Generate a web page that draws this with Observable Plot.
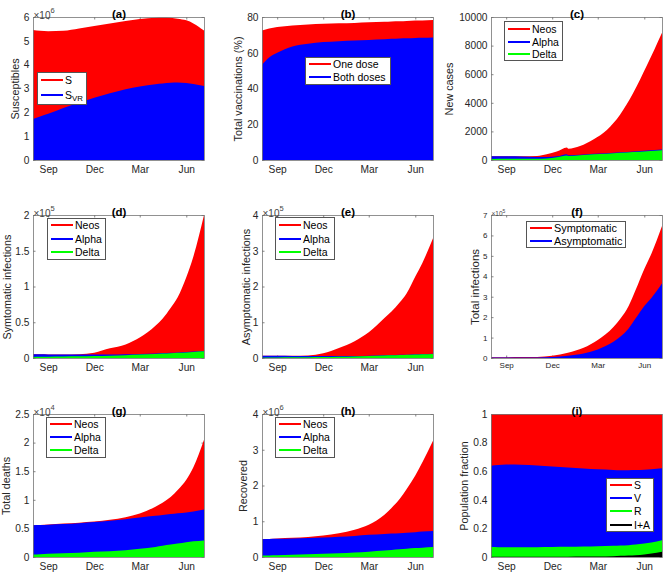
<!DOCTYPE html>
<html><head><meta charset="utf-8">
<script src="https://cdn.jsdelivr.net/npm/d3@7"></script>
<script src="https://cdn.jsdelivr.net/npm/@observablehq/plot@0.6"></script>
<style>
body{margin:0;background:#fff;}
#root{position:relative;width:669px;height:575px;background:#fff;font-family:"Liberation Sans",Arial,Helvetica,sans-serif;color:#000;overflow:hidden}
.cell{position:absolute}
.legend{position:absolute;background:#fff;border:1px solid #555;box-sizing:border-box}
.legend .ln{position:absolute;height:2px;margin-top:-1px}
.legend .tx{position:absolute;line-height:1;transform:translateY(-50%);white-space:nowrap;color:#000}
.legend sub{font-size:0.75em;vertical-align:-0.3em;line-height:0}
</style></head><body><div id="root"></div>
<script>
// ---- shared time axis ----
const dates = ["2021-08-02","2021-08-16","2021-09-01","2021-10-01","2021-11-01","2021-12-01","2022-01-01","2022-02-01","2022-03-01","2022-04-01","2022-04-15","2022-05-01","2022-05-15","2022-06-01","2022-06-15","2022-07-06"];
const cDates = ["2021-08-02","2021-09-01","2021-10-01","2021-11-01","2021-11-20","2021-12-10","2021-12-30","2022-01-02","2022-01-25","2022-02-21","2022-03-19","2022-04-14","2022-05-10","2022-06-06","2022-07-06"];
const xTickDates = ["2021-09-01","2021-12-01","2022-03-01","2022-06-01"];
const xDomain = ["2021-08-02","2022-07-06"];

// (a) Susceptibles (x10^6)
const aS   = [5.45,5.42,5.40,5.42,5.52,5.62,5.73,5.83,5.92,5.97,5.98,5.97,5.93,5.86,5.73,5.43];
const aSVR = [1.72,1.83,1.94,2.18,2.40,2.61,2.80,2.97,3.08,3.18,3.21,3.24,3.25,3.23,3.19,3.11];
// (b) Total vaccinations (%)
const bOneDose  = [72.5,73.6,74.4,75.3,75.8,76.2,76.5,76.7,77.0,77.3,77.5,77.6,77.8,78.0,78.1,78.3];
const bBothDose = [53.3,57.4,60.0,63.5,65.0,66.0,66.5,66.9,67.2,67.6,67.8,68.0,68.1,68.3,68.4,68.6];
// (c) New cases
const cNeos  = [270,265,262,285,400,590,880,790,980,1450,2100,3160,4680,6600,8900];
const cAlpha = [265,255,245,215,215,260,410,335,370,430,480,540,600,660,730];
const cDelta = [75,85,90,95,110,190,320,285,330,400,440,500,560,620,690];
// (d) Symptomatic infections (x10^5)
const dNeos  = [0.051,0.052,0.050,0.050,0.053,0.075,0.135,0.19,0.285,0.45,0.55,0.70,0.85,1.13,1.42,2.0];
const dAlpha = [0.051,0.052,0.050,0.050,0.048,0.048,0.048,0.051,0.057,0.064,0.069,0.073,0.078,0.084,0.090,0.098];
const dDelta = [0.015,0.016,0.017,0.020,0.023,0.028,0.033,0.040,0.048,0.057,0.062,0.067,0.072,0.078,0.084,0.093];
// (e) Asymptomatic infections (x10^5)
const eNeos  = [0.065,0.064,0.062,0.060,0.070,0.13,0.28,0.47,0.72,1.12,1.30,1.55,1.81,2.28,2.66,3.35];
const eAlpha = [0.065,0.063,0.061,0.058,0.055,0.053,0.053,0.057,0.065,0.076,0.081,0.088,0.094,0.103,0.111,0.121];
const eDelta = [0.010,0.012,0.014,0.018,0.023,0.029,0.036,0.045,0.055,0.068,0.074,0.081,0.088,0.097,0.105,0.115];
// (f) Total infections (x10^5)
const fSymptomatic  = [0.04,0.04,0.04,0.045,0.05,0.11,0.26,0.50,0.88,1.52,1.93,2.55,3.34,4.36,5.10,6.46];
const fAsymptomatic = [0.02,0.02,0.022,0.025,0.03,0.05,0.11,0.22,0.42,0.79,1.05,1.45,1.94,2.54,2.94,3.65];
// (g) Total deaths (x10^4)
const gNeos  = [0.556,0.560,0.570,0.585,0.600,0.620,0.650,0.695,0.760,0.880,0.950,1.050,1.170,1.350,1.570,2.050];
const gAlpha = [0.556,0.560,0.565,0.575,0.590,0.610,0.635,0.660,0.690,0.720,0.735,0.750,0.765,0.780,0.795,0.830];
const gDelta = [0.045,0.050,0.056,0.065,0.076,0.090,0.102,0.118,0.145,0.175,0.195,0.217,0.235,0.260,0.275,0.290];
// (h) Recovered (x10^6)
const hNeos  = [0.500,0.505,0.515,0.535,0.560,0.600,0.665,0.760,0.900,1.180,1.370,1.620,1.900,2.280,2.650,3.250];
const hAlpha = [0.500,0.503,0.508,0.515,0.530,0.545,0.565,0.590,0.620,0.645,0.655,0.665,0.680,0.695,0.710,0.730];
const hDelta = [0.040,0.045,0.052,0.062,0.075,0.090,0.105,0.125,0.150,0.180,0.195,0.215,0.230,0.250,0.262,0.280];
// (i) Population fraction
const iS  = [1,1,1,1,1,1,1,1,1,1,1,1,1,1,1,1];
const iV  = [0.638,0.643,0.646,0.645,0.640,0.633,0.626,0.619,0.613,0.609,0.607,0.607,0.608,0.611,0.614,0.620];
const iR  = [0.070,0.069,0.068,0.068,0.069,0.070,0.071,0.073,0.075,0.078,0.080,0.083,0.087,0.094,0.101,0.117];
const iIA = [0.001,0.001,0.001,0.001,0.001,0.001,0.002,0.003,0.004,0.006,0.008,0.010,0.013,0.018,0.024,0.037];

const RED = "#ff0000", BLUE = "#0000ff", GREEN = "#00ff00", BLACK = "#000000";
const variantLabels = ["Neos","Alpha","Delta"];
const variantColors = [RED, BLUE, GREEN];

// ---- layout ----
const FW = 171, FH = 143, TL = 2.5;
const cols = [{x:0, ml:33}, {x:223, ml:39}, {x:446, ml:45}];
const rows = [{y:0, mt:17, h:195}, {y:195, mt:20, h:198}, {y:393, mt:21, h:182}];
const CW = 223;

const variantSeries = (n, a, d) => [n, a, d].map((v, i) => ({values: v, color: variantColors[i], label: variantLabels[i]}));

const panels = [
  {title:"(a)", r:0, c:0, dates, yMax:6, yTicks:[0,1,2,3,4,5,6], exp:"6", ylabel:"Susceptibles", yOff:18,
   series:[{values:aS,color:RED,label:"S"},{values:aSVR,color:BLUE,label:"S<sub>VR</sub>"}],
   legend:{left:37, top:72, w:50, h:33, first:7.5, step:15.5}},
  {title:"(b)", r:0, c:1, dates, yMax:80, yTicks:[0,20,40,60,80], ylabel:"Total vaccinations (%)", yOff:24,
   series:[{values:bOneDose,color:RED,label:"One dose"},{values:bBothDose,color:BLUE,label:"Both doses"}],
   legend:{left:305, top:57, w:86, h:28, first:7.3, step:13}},
  {title:"(c)", r:0, c:2, dates:cDates, yMax:10000, yTicks:[0,2000,4000,6000,8000,10000], ylabel:"New cases", yOff:42,
   series:variantSeries(cNeos,cAlpha,cDelta),
   legend:{left:504, top:21, w:59, h:40, first:7.6, step:12.9}},
  {title:"(d)", r:1, c:0, dates, yMax:2, yTicks:[0,0.5,1,1.5,2], exp:"5", ylabel:"Symtomatic infections", yOff:26,
   series:variantSeries(dNeos,dAlpha,dDelta),
   legend:{left:47, top:218, w:59, h:42, first:7.2, step:13.6}},
  {title:"(e)", r:1, c:1, dates, yMax:4, yTicks:[0,1,2,3,4], exp:"5", ylabel:"Asymptomatic infections", yOff:15.5,
   series:variantSeries(eNeos,eAlpha,eDelta),
   legend:{left:275, top:217, w:60, h:43, first:8, step:13.6}},
  {title:"(f)", r:1, c:2, dates, yMax:7, yTicks:[0,1,2,3,4,5,6,7], exp:"5", ylabel:"Total infections", yOff:16, small:true,
   series:[{values:fSymptomatic,color:RED,label:"Symptomatic"},{values:fAsymptomatic,color:BLUE,label:"Asymptomatic"}],
   legend:{left:526, top:221, w:100, h:27, first:6.5, step:13.4, fs:10.9}},
  {title:"(g)", r:2, c:0, dates, yMax:2.5, yTicks:[0,0.5,1,1.5,2,2.5], exp:"4", ylabel:"Total deaths", yOff:27,
   series:variantSeries(gNeos,gAlpha,gDelta),
   legend:{left:46, top:417, w:60, h:41, first:7.3, step:13}},
  {title:"(h)", r:2, c:1, dates, yMax:4, yTicks:[0,1,2,3,4], exp:"6", ylabel:"Recovered", yOff:19,
   series:variantSeries(hNeos,hAlpha,hDelta),
   legend:{left:275, top:417, w:60, h:41, first:7.3, step:13}},
  {title:"(i)", r:2, c:2, dates, yMax:1, yTicks:[0,0.2,0.4,0.6,0.8,1], ylabel:"Population fraction", yOff:27,
   series:[{values:iS,color:RED,label:"S"},{values:iV,color:BLUE,label:"V"},{values:iR,color:GREEN,label:"R"},{values:iIA,color:BLACK,label:"I+A"}],
   legend:{left:606, top:478, w:48, h:54, first:6.5, step:13.4}}
];

const root = document.getElementById("root");
const xTicks = xTickDates.map(d => new Date(d));

for (const p of panels) {
  const col = cols[p.c], row = rows[p.r];
  const ds = p.dates.map(d => new Date(d));
  const tickFont = p.small ? 8 : 10.2;
  const tickStyle = {stroke:"#333", strokeWidth:0.6};
  const marks = [
    Plot.tickY(p.yTicks, {y: d => d, insetRight: FW - TL, ...tickStyle}),
    Plot.tickY(p.yTicks, {y: d => d, insetLeft: FW - TL, ...tickStyle}),
    Plot.tickX(xTicks, {x: d => d, insetTop: FH - TL, ...tickStyle}),
    Plot.tickX(xTicks, {x: d => d, insetBottom: FH - TL, ...tickStyle})
  ];
  for (const s of p.series) {
    marks.push(Plot.areaY(s.values.map((v, i) => ({date: ds[i], v})), {x: "date", y: "v", fill: s.color, curve: "monotone-x"}));
  }
  marks.push(Plot.frame({stroke:"#777", strokeWidth:0.8}));
  marks.push(Plot.axisX({ticks: xTicks, tickFormat: "%b", tickSize: 0, tickPadding: p.small ? 4 : 5, label: null, fontSize: tickFont}));
  marks.push(Plot.axisY({ticks: p.yTicks, tickFormat: d => String(d), tickSize: 0, tickPadding: 4, label: null, fontSize: tickFont}));
  marks.push(Plot.text([p.title], {frameAnchor: "top", dy: -8, text: d => d, fontWeight: "bold", fontSize: 11.5, fill: "#000"}));
  marks.push(Plot.text([p.ylabel], {frameAnchor: "left", textAnchor: "middle", rotate: -90, dx: -p.yOff, text: d => d, fontSize: p.small ? 11.5 : 10.8, fill: "#262626"}));
  if (p.exp) {
    const big = p.small ? 6.5 : 10, sup = p.small ? 5 : 7.5;
    marks.push(Plot.text(["×10"], {frameAnchor: "top-left", textAnchor: "start", dy: p.small ? -4.5 : -5.5, text: d => d, fontSize: big, fill: "#444"}));
    marks.push(Plot.text([p.exp], {frameAnchor: "top-left", textAnchor: "start", dx: p.small ? 11 : 17, dy: p.small ? -6.5 : -9.5, text: d => d, fontSize: sup, fill: "#444"}));
  }
  const chart = Plot.plot({
    width: CW, height: row.h,
    marginLeft: col.ml, marginRight: CW - col.ml - FW,
    marginTop: row.mt, marginBottom: row.h - row.mt - FH,
    x: {type: "utc", domain: xDomain.map(d => new Date(d))},
    y: {domain: [0, p.yMax]},
    style: {fontFamily: '"Liberation Sans", Arial, Helvetica, sans-serif', fontSize: "10px", color: "#262626", background: "transparent", overflow: "visible"},
    marks
  });
  const cell = document.createElement("div");
  cell.className = "cell";
  cell.style.left = col.x + "px";
  cell.style.top = row.y + "px";
  cell.appendChild(chart);
  root.appendChild(cell);

  // legend
  const L = p.legend;
  const lg = document.createElement("div");
  lg.className = "legend";
  Object.assign(lg.style, {left: L.left + "px", top: L.top + "px", width: L.w + "px", height: L.h + "px"});
  const fs = L.fs || 10.5;
  p.series.forEach((s, i) => {
    const y = L.first + i * L.step - 1;
    const ln = document.createElement("div");
    ln.className = "ln";
    Object.assign(ln.style, {left: "2.5px", width: "22.5px", top: y + "px", background: s.color});
    const tx = document.createElement("div");
    tx.className = "tx";
    Object.assign(tx.style, {left: "27px", top: y + "px", fontSize: fs + "px"});
    tx.innerHTML = s.label;
    lg.appendChild(ln); lg.appendChild(tx);
  });
  root.appendChild(lg);
}
</script></body></html>
